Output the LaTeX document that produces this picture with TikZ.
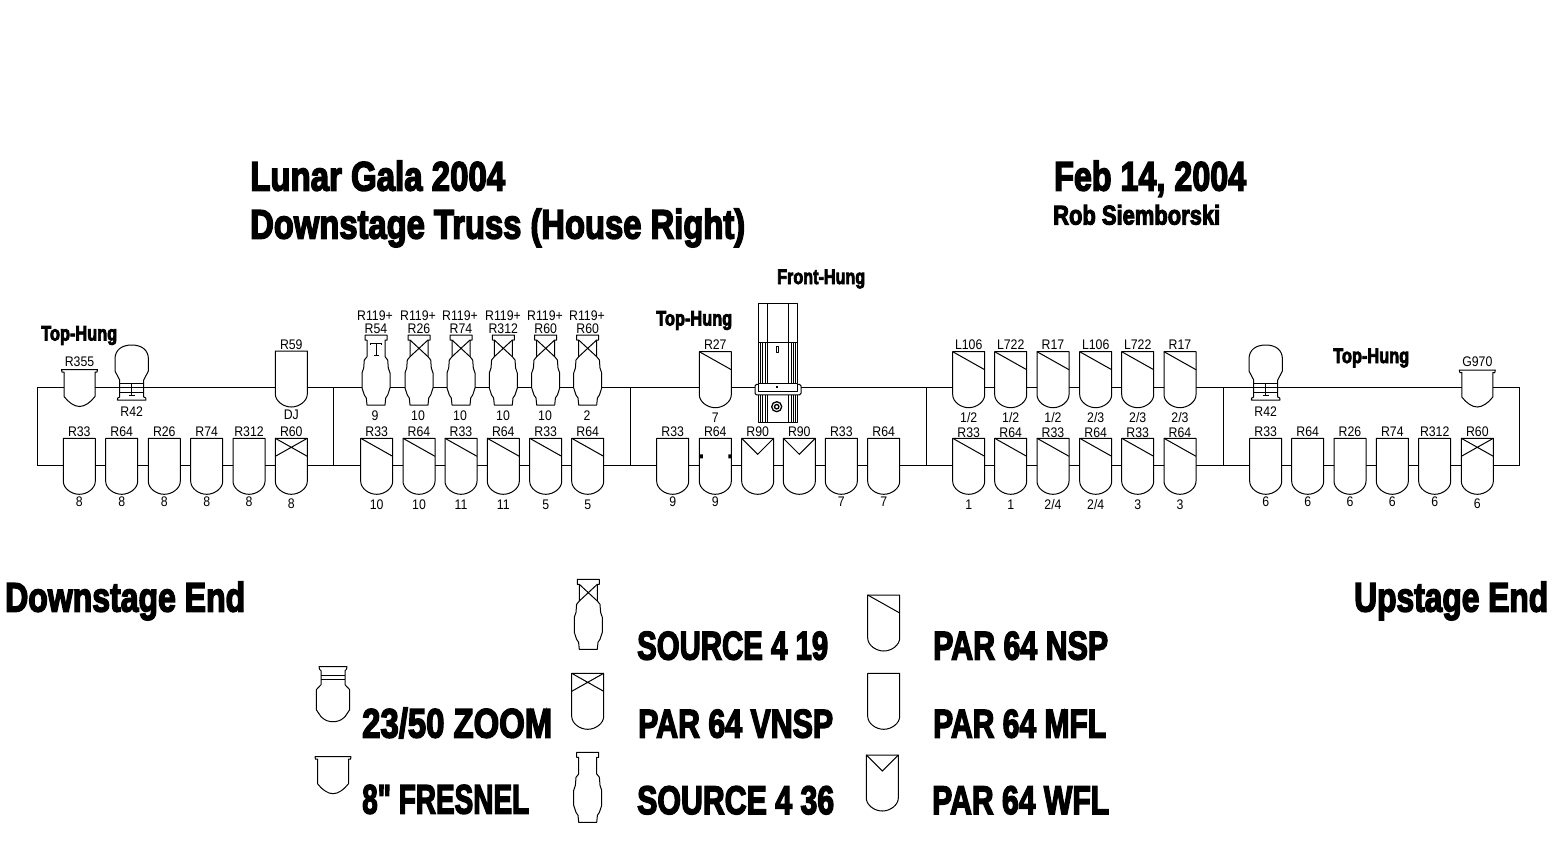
\documentclass[tikz,border=0pt]{standalone}
\usepackage{graphicx}
\usepackage{fontspec}
\setmainfont{Liberation Sans}
\newfontfamily\heavy[FakeBold=4]{Liberation Sans Bold}
\newcounter{lblc}
\newcommand\lab[3]{\stepcounter{lblc}\node[lampl] (lab\the\value{lblc}) at (#1,#2) {\scalebox{1}[1.13]{#3}};}
\newcommand\bigt[6]{\node[bigtxt] (#1) at (#2,#3) {\resizebox{#4pt}{\height}{\fontsize{#5}{#5}\heavy #6}};}
% fixture in the rig: type, x, top y, top label, label-y, bottom label, bottom-label-y
\newcommand\fx[7]{\pic at (#2,#3) {#1};\lab{#2}{#5}{#4}\lab{#2}{#7}{#6}}
\tikzset{
  x=1pt,y=-1pt,
  inst/.style={draw=black,fill=white,line width=1pt,line join=round},
  ln/.style={draw=black,line width=1pt},
  wire/.style={draw=black,line width=1pt},
  lampl/.style={font=\fontsize{12.3}{13}\selectfont,inner sep=0pt,text=black},
  bigtxt/.style={anchor=base west,inner sep=0pt,text=black},
  parbody/.pic={\path[inst] (-16,0) -- (16,0) -- (16,43) .. controls (16,50) and (8,56) .. (0,56) .. controls (-8,56) and (-16,50) .. (-16,43) -- cycle;},
  parm/.pic={\pic {parbody};},
  parn/.pic={\pic {parbody};\path[ln] (-16,0) -- (16,18);},
  parw/.pic={\pic {parbody};\path[ln] (-16,0) -- (0,16) -- (16,0);},
  parx/.pic={\pic {parbody};\path[ln] (-16,0) -- (16,18) (16,0) -- (-16,18);},
  pard/.pic={\pic {parbody};\path[fill=black] (-16,16) rectangle (-12.5,20) (13,16) rectangle (16,20);},
  srcbody/.pic={\path[inst] (-11,0) -- (11,0) -- (11,5) -- (9,5) -- (9,21.7) -- (11.7,25) -- (12.3,33) -- (14,38) -- (14,53) -- (11.7,60) -- (9.7,63) -- (9,70) -- (-9,70) -- (-9.7,63) -- (-11.7,60) -- (-14,53) -- (-14,38) -- (-12.3,33) -- (-11.7,25) -- (-9,21.7) -- (-9,5) -- (-11,5) -- cycle;},
  srcp/.pic={\pic {srcbody};},
  srcx/.pic={\pic {srcbody};\path[ln] (-9,5) -- (9,21.7) (9,5) -- (-9,21.7);},
  srct/.pic={\pic {srcbody};\path[ln] (-5.5,8) -- (5.5,8) (-5.5,8) -- (-5.5,10) (5.5,8) -- (5.5,10) (0,8) -- (0,20) (-2.5,20) -- (2.5,20);},
  fresnel/.pic={\path[inst] (-18,0) -- (18,0) -- (17.5,2.5) -- (15.5,2.5) -- (15.5,27) .. controls (11,33) and (5,37) .. (0,37) .. controls (-5,37) and (-11,33) .. (-15.5,27) -- (-15.5,2.5) -- (-17.5,2.5) -- cycle;},
  zoomhead/.pic={\path[inst] (0,0) .. controls (10,0) and (16.7,5) .. (16.7,14) -- (16.7,26) -- (12,35) -- (12,52) -- (14,53) -- (14.3,55) -- (-14.3,55) -- (-14,53) -- (-12,52) -- (-12,35) -- (-16.7,26) -- (-16.7,14) .. controls (-16.7,5) and (-10,0) .. (0,0) -- cycle;
    \path[ln] (-12,38) -- (12,38) (-12,42) -- (12,42) (-12,47) -- (12,47) (0,38) -- (0,50.5) (-3,50.5) -- (3,50.5) (-7,38) -- (7,38);},
  zoomleg/.pic={\path[inst] (-14,0) -- (14,0) -- (13.5,2.5) -- (12,4) -- (12,18) -- (16.7,23) -- (16.7,43) -- (12,50) .. controls (8,54) and (4,55) .. (0,55) .. controls (-4,55) and (-8,54) .. (-12,50) -- (-16.7,43) -- (-16.7,23) -- (-12,18) -- (-12,4) -- (-13.5,2.5) -- cycle;
    \path[ln] (-12,8.7) -- (12,8.7) (-12,12.7) -- (12,12.7);},
  lensblock/.pic={%
    \path[inst] (0,0) rectangle (39.4,119.4);
    \path[ln] (9,0) -- (9,39) (29.7,0) -- (29.7,39) (0,39) -- (39.4,39);
    \foreach \k in {2.3,4.6,6.9,9,30.4,32.7,35,37.2}{\path[ln] (\k,39) -- (\k,119.4);}
    \path[draw=black,fill=white,line width=1pt,line join=round] (17.7,42.7) rectangle (20.4,48.7);
    \path[inst,rounded corners=1.5pt] (-3.3,81) rectangle (42.7,91.5);
    \path[inst] (0,80) rectangle (39.4,88.4);
    \path[fill=black] (18,82.3) rectangle (19.8,85);
    \path[draw=black,fill=white,line width=1.3pt] (18.4,103.4) circle (5);
    \path[draw=black,line width=1.3pt] (18.4,103.4) circle (2.2);
  },
}
\begin{document}
\begin{tikzpicture}
\path[fill=white] (0,0) rectangle (1557,852);
\useasboundingbox (0,0) rectangle (1557,852);

% truss
\coordinate (a0) at (37.3,387.3);
\coordinate (a1) at (333.3,387.3);
\coordinate (a2) at (630.7,387.3);
\coordinate (a3) at (926.7,387.3);
\coordinate (a4) at (1223.3,387.3);
\coordinate (a5) at (1519.3,387.3);
\coordinate (b0) at (37.3,465);
\coordinate (b1) at (333.3,465);
\coordinate (b2) at (630.7,465);
\coordinate (b3) at (926.7,465);
\coordinate (b4) at (1223.3,465);
\coordinate (b5) at (1519.3,465);
\draw[wire] (a0) -- (a5) -- (b5) -- (b0) -- cycle;
\draw[wire] (a1) -- (b1) (a2) -- (b2) (a3) -- (b3) (a4) -- (b4);

% section 1
\pic at (79.5,369.5) {fresnel}; \lab{79.5}{362}{R355}
\pic at (131.7,345) {zoomhead}; \lab{131.7}{411.5}{R42}
\fx{parm}{291.3}{351}{R59}{345}{DJ}{415}
\fx{parm}{79.3}{438.3}{R33}{432}{8}{502}
\fx{parm}{121.7}{438.3}{R64}{432}{8}{502}
\fx{parm}{164.3}{438.3}{R26}{432}{8}{502}
\fx{parm}{206.7}{438.3}{R74}{432}{8}{502}
\fx{parm}{249}{438.3}{R312}{432}{8}{502}
\fx{parx}{291.3}{438.3}{R60}{432}{8}{504}

% section 2
\pic at (376,335) {srct}; \lab{376}{329}{R54}\lab{375}{316}{R119+}\lab{375}{415.5}{9}
\pic at (419,335) {srcx}; \lab{419}{329}{R26}\lab{418}{316}{R119+}\lab{418}{415.5}{10}
\pic at (461,335) {srcx}; \lab{461}{329}{R74}\lab{460}{316}{R119+}\lab{460}{415.5}{10}
\pic at (503.3,335) {srcx}; \lab{503.3}{329}{R312}\lab{503}{316}{R119+}\lab{503}{415.5}{10}
\pic at (545.7,335) {srcx}; \lab{545.7}{329}{R60}\lab{545}{316}{R119+}\lab{545}{415.5}{10}
\pic at (587.7,335) {srcx}; \lab{587.7}{329}{R60}\lab{587}{316}{R119+}\lab{587}{415.5}{2}
\fx{parn}{376.7}{438.3}{R33}{432}{10}{505}
\fx{parn}{419}{438.3}{R64}{432}{10}{505}
\fx{parn}{461}{438.3}{R33}{432}{11}{505}
\fx{parn}{503.3}{438.3}{R64}{432}{11}{505}
\fx{parn}{545.7}{438.3}{R33}{432}{5}{505}
\fx{parn}{587.7}{438.3}{R64}{432}{5}{505}

% section 3
\fx{parn}{715.3}{351.7}{R27}{345}{7}{418}
\pic at (758.3,303.3) {lensblock};
\fx{parm}{672.7}{438.3}{R33}{432}{9}{502}
\fx{pard}{715.3}{438.3}{R64}{432}{9}{502}
\pic at (757.7,438.3) {parw}; \lab{757.7}{432}{R90}
\pic at (799.3,438.3) {parw}; \lab{799.3}{432}{R90}
\fx{parm}{841.3}{438.3}{R33}{432}{7}{502}
\fx{parm}{883.7}{438.3}{R64}{432}{7}{502}

% section 4
\fx{parn}{968.7}{351.7}{L106}{345}{1/2}{418}
\fx{parn}{1010.7}{351.7}{L722}{345}{1/2}{418}
\fx{parn}{1053}{351.7}{R17}{345}{1/2}{418}
\fx{parn}{1095.7}{351.7}{L106}{345}{2/3}{418}
\fx{parn}{1137.7}{351.7}{L722}{345}{2/3}{418}
\fx{parn}{1180}{351.7}{R17}{345}{2/3}{418}
\fx{parn}{968.7}{438.3}{R33}{432.5}{1}{505}
\fx{parn}{1010.7}{438.3}{R64}{432.5}{1}{505}
\fx{parn}{1053}{438.3}{R33}{432.5}{2/4}{505}
\fx{parn}{1095.7}{438.3}{R64}{432.5}{2/4}{505}
\fx{parn}{1137.7}{438.3}{R33}{432.5}{3}{505}
\fx{parn}{1180}{438.3}{R64}{432.5}{3}{505}

% section 5
\pic at (1265.7,345) {zoomhead}; \lab{1265.7}{411.5}{R42}
\pic at (1477.3,370) {fresnel}; \lab{1477.3}{362}{G970}
\fx{parm}{1265.7}{438.3}{R33}{432}{6}{502}
\fx{parm}{1307.7}{438.3}{R64}{432}{6}{502}
\fx{parm}{1350}{438.3}{R26}{432}{6}{502}
\fx{parm}{1392.3}{438.3}{R74}{432}{6}{502}
\fx{parm}{1434.7}{438.3}{R312}{432}{6}{502}
\fx{parx}{1477.3}{438.3}{R60}{432}{6}{504}

% legend symbols
\pic at (333,666.7) {zoomleg};
\pic at (333,756.7) {fresnel};
\pic at (588.3,579.3) {srcx};
\pic at (587.7,673.3) {parx};
\pic at (587.7,752.3) {srcp};
\pic at (883.7,595) {parn};
\pic at (883.7,673.3) {parm};
\pic at (882.3,755) {parw};

% headings
\bigt{t1}{250}{190.5}{255}{41}{Lunar Gala 2004}
\bigt{t2}{250}{238.5}{495}{41}{Downstage Truss (House Right)}
\bigt{t3}{1054}{190.5}{192}{41}{Feb 14, 2004}
\bigt{t4}{1053}{224.5}{167}{27}{Rob Siemborski}
\bigt{t5}{777}{284}{88}{21}{Front-Hung}
\bigt{t6}{41}{340.5}{76}{21}{Top-Hung}
\bigt{t7}{656}{325.5}{76}{21}{Top-Hung}
\bigt{t8}{1333}{363}{76}{21}{Top-Hung}
\bigt{t9}{5}{611.5}{240}{41}{Downstage End}
\bigt{t10}{1354}{611.5}{194}{41}{Upstage End}
\bigt{k1}{362}{737.5}{190}{41}{23/50 ZOOM}
\bigt{k2}{362}{813.5}{167}{41}{8" FRESNEL}
\bigt{k3}{637}{659.5}{191}{40}{SOURCE 4 19}
\bigt{k4}{638}{737.5}{195}{40}{PAR 64 VNSP}
\bigt{k5}{637}{814}{197}{40}{SOURCE 4 36}
\bigt{k6}{933}{659.5}{175}{40}{PAR 64 NSP}
\bigt{k7}{933}{737.5}{173}{40}{PAR 64 MFL}
\bigt{k8}{932}{814}{177}{40}{PAR 64 WFL}
\end{tikzpicture}
\end{document}
